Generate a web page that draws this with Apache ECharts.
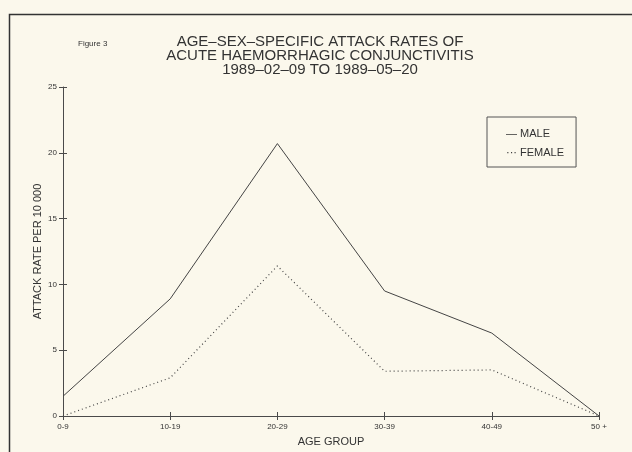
<!DOCTYPE html>
<html>
<head>
<meta charset="utf-8">
<script src="https://cdn.jsdelivr.net/npm/echarts@6/dist/echarts.min.js"></script>
<style>
  html, body { margin: 0; padding: 0; background: #fbf8ec; }
  #chart { width: 632px; height: 452px; }
</style>
</head>
<body>
<div id="chart"></div>
<script>
// age groups and rates per 10 000
const ageGroups = ['0-9', '10-19', '20-29', '30-39', '40-49', '50 +'];
const maleRates = [1.5, 8.9, 20.7, 9.5, 6.3, 0];
const femaleRates = [0, 2.9, 11.4, 3.4, 3.5, 0];
const yTicks = [0, 5, 10, 15, 20, 25];

const ink = '#4a4a4a';
const font = 'Liberation Sans';

const chart = echarts.init(document.getElementById('chart'), null, { renderer: 'canvas' });

const option = {
  backgroundColor: '#fbf8ec',
  textStyle: { fontFamily: font, color: ink },
  title: [{
    text: 'AGE\u2013SEX\u2013SPECIFIC ATTACK RATES OF\nACUTE HAEMORRHAGIC CONJUNCTIVITIS\n1989\u201302\u201309 TO 1989\u201305\u201320',
    left: 315,
    top: 30,
    textAlign: 'center',
    textStyle: {
      fontFamily: font,
      fontSize: 15,
      fontWeight: 'normal',
      color: '#333',
      lineHeight: 14,
    },
  }, {
    text: 'Figure 3',
    left: 73,
    top: 35,
    textStyle: { fontFamily: font, fontSize: 8, fontWeight: 'normal', color: '#333' },
  }],
  legend: {
    left: 487,
    top: 117,
    orient: 'vertical',
    padding: [10, 12, 9, 14],
    itemGap: 6,
    borderColor: '#555',
    borderWidth: 1,
    icon: 'none',
    itemWidth: 0,
    data: ['MALE', 'FEMALE'],
    formatter(name) {
      return name === 'MALE' ? '\u2014 MALE' : '\u00b7\u00b7\u00b7 FEMALE';
    },
    textStyle: { fontFamily: font, fontSize: 11, color: '#333' },
  },
  grid: {
    left: 63,
    right: 33,
    top: 87,
    bottom: 33,
  },
  xAxis: [{
    type: 'category',
    boundaryGap: false,
    data: ageGroups,
    name: 'AGE GROUP',
    nameLocation: 'middle',
    nameGap: 20,
    nameTextStyle: { fontFamily: font, fontSize: 11, color: '#333' },
    axisLine: { lineStyle: { color: ink, width: 1 } },
    axisTick: { alignWithLabel: true, length: 4, lineStyle: { color: ink } },
    axisLabel: { fontSize: 8, color: '#333', margin: 7 },
  }, {
    type: 'category',
    boundaryGap: false,
    data: ageGroups,
    position: 'bottom',
    axisLine: { show: false },
    axisTick: { inside: true, length: 4, lineStyle: { color: ink } },
    axisLabel: { show: false },
  }],
  yAxis: [{
    type: 'value',
    min: yTicks[0],
    max: yTicks[yTicks.length - 1],
    interval: 5,
    name: 'ATTACK RATE PER 10 000',
    nameLocation: 'middle',
    nameGap: 20,
    nameMoveOverlap: false,
    nameTextStyle: { fontFamily: font, fontSize: 11, color: '#333' },
    axisLine: { show: true, lineStyle: { color: ink, width: 1 } },
    axisTick: { show: true, length: 4, lineStyle: { color: ink } },
    axisLabel: { fontSize: 8, color: '#333', margin: 6 },
    splitLine: { show: false },
  }, {
    type: 'value',
    min: yTicks[0],
    max: yTicks[yTicks.length - 1],
    interval: 5,
    position: 'left',
    axisLine: { show: false },
    axisTick: { show: true, inside: true, length: 4, lineStyle: { color: ink } },
    axisLabel: { show: false },
    splitLine: { show: false },
  }],
  series: [{
    name: 'MALE',
    type: 'line',
    data: maleRates,
    showSymbol: false,
    symbol: 'none',
    lineStyle: { color: '#444', width: 1 },
    itemStyle: { color: '#444' },
  }, {
    name: 'FEMALE',
    type: 'line',
    data: femaleRates,
    showSymbol: false,
    symbol: 'none',
    lineStyle: { color: '#444', width: 1.2, type: [1, 3] },
    itemStyle: { color: '#444' },
  }],
  graphic: [{
    type: 'rect',
    shape: { x: 9.5, y: 14.5, width: 700, height: 600 },
    style: { fill: 'none', stroke: '#333', lineWidth: 1.5 },
    silent: true,
  }],
};

chart.setOption(option);
</script>
</body>
</html>
